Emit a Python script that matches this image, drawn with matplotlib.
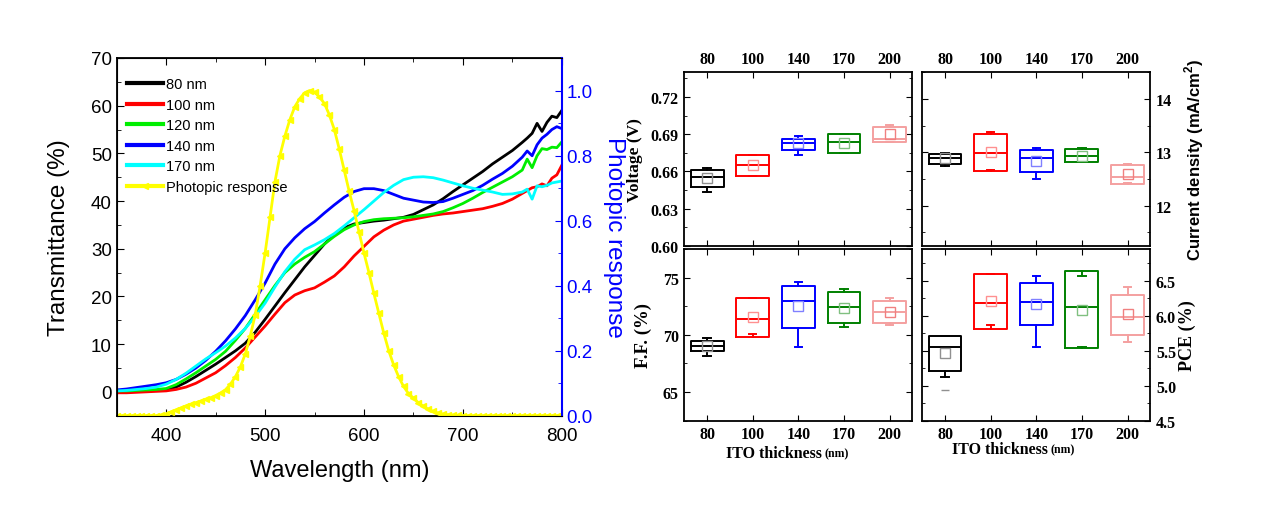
import numpy as np
import matplotlib
matplotlib.use("Agg")
import matplotlib.pyplot as plt
from matplotlib.ticker import MultipleLocator, FormatStrFormatter

# ---- transmittance spectra (left panel) ----
wavelength = [350, 360, 370, 380, 390, 400, 410, 420, 430, 440, 450, 460, 470, 480, 490,
              500, 510, 520, 530, 540, 550, 560, 570, 580, 590, 600, 610, 620, 630, 640,
              650, 660, 670, 680, 690, 700, 710, 720, 730, 740, 750, 760, 765, 770, 775,
              780, 785, 790, 795, 800]
t_80 = [0.0, 0.0, 0.1, 0.2, 0.3, 0.5, 1.0, 2.0, 3.2, 4.5, 5.8, 7.2, 8.6, 10.2, 12.5,
        15.2, 18.0, 20.8, 23.5, 26.2, 28.6, 31.0, 33.0, 34.4, 35.2, 35.5, 35.8, 36.0, 36.3, 36.6,
        37.2, 38.2, 39.2, 40.5, 42.0, 43.4, 44.8, 46.2, 47.8, 49.2, 50.6, 52.3, 53.2, 54.2, 56.3,
        54.6, 56.5, 57.8, 57.5, 59.0]
t_100 = [-0.2, -0.2, -0.1, 0.0, 0.1, 0.2, 0.5, 1.0, 1.8, 2.9, 4.0, 5.5, 7.2, 9.2, 11.5,
         13.8, 16.3, 18.7, 20.3, 21.2, 21.8, 23.0, 24.3, 26.2, 28.5, 30.5, 32.5, 33.9, 35.0, 35.8,
         36.2, 36.6, 37.0, 37.3, 37.5, 37.8, 38.1, 38.4, 38.9, 39.5, 40.4, 41.6, 42.2, 42.8, 43.0,
         43.6, 43.2, 44.8, 45.5, 47.5]
t_120 = [0.2, 0.2, 0.3, 0.4, 0.5, 0.7, 1.5, 2.7, 4.0, 5.4, 6.8, 8.5, 10.8, 13.3, 16.3,
         19.3, 22.3, 25.0, 26.8, 28.2, 29.4, 31.0, 32.6, 34.0, 35.0, 35.7, 36.1, 36.3, 36.4, 36.5,
         36.7, 37.0, 37.3, 37.8, 38.6, 39.5, 40.6, 41.8, 42.9, 44.0, 45.1, 46.5, 48.8, 47.0, 49.5,
         51.0, 50.8, 51.3, 51.2, 52.4]
t_140 = [0.4, 0.6, 0.9, 1.2, 1.5, 1.9, 2.6, 3.7, 5.0, 6.6, 8.5, 10.7, 13.2, 16.0, 19.3,
         22.8, 26.8, 30.0, 32.3, 34.2, 35.7, 37.5, 39.2, 40.8, 42.0, 42.6, 42.6, 42.2, 41.4, 40.6,
         40.2, 39.8, 39.7, 39.9, 40.6, 41.4, 42.2, 43.3, 44.6, 45.8, 47.3, 49.2, 50.5, 49.5, 51.8,
         53.2, 54.0, 55.0, 55.6, 55.2]
t_170 = [0.2, 0.3, 0.5, 0.7, 1.0, 1.6, 2.6, 3.9, 5.4, 6.9, 8.2, 9.6, 11.3, 13.3, 15.8,
         18.6, 22.0, 25.2, 27.8, 29.8, 30.8, 31.9, 33.2, 34.8, 36.5, 38.2, 40.0, 41.8, 43.3, 44.5,
         45.0, 45.1, 44.9, 44.4, 43.8, 43.2, 42.7, 42.3, 41.9, 41.4, 41.5, 41.9, 42.5, 40.4, 43.2,
         43.0, 43.3, 43.8, 44.0, 44.2]
spectra = [("80 nm", t_80, "black"), ("100 nm", t_100, "red"), ("120 nm", t_120, "#00EE00"),
           ("140 nm", t_140, "blue"), ("170 nm", t_170, "cyan")]

photopic_wl = list(range(350, 805, 5))
photopic = [0, 0, 0, 0, 0, 0, 0, 0, 0, 0.002,
            0.005, 0.012, 0.018, 0.024, 0.03, 0.035, 0.04, 0.045, 0.05, 0.055,
            0.062, 0.07, 0.08, 0.097, 0.12, 0.15, 0.19, 0.245, 0.31, 0.40,
            0.50, 0.61, 0.72, 0.80, 0.86, 0.91, 0.95, 0.975, 0.993, 1.0,
            0.995, 0.98, 0.96, 0.925, 0.88, 0.82, 0.755, 0.69, 0.63, 0.565,
            0.50, 0.44, 0.376, 0.315, 0.254, 0.20, 0.156, 0.12, 0.09, 0.068,
            0.054, 0.04, 0.029, 0.02, 0.013, 0.008, 0.005, 0.003, 0.002, 0.001,
            0, 0, 0, 0, 0, 0, 0, 0, 0, 0, 0, 0, 0, 0, 0, 0, 0, 0, 0, 0, 0]

# ---- device statistics (right panels) ----
thickness = ["80", "100", "140", "170", "200"]
box_colors = ["black", "red", "blue", "green", "#F4A0A0"]
mean_colors = ["#909090", "#FF9090", "#8080FF", "#80C080", "#F08080"]

voc_lo = [0.6432, 0.6562, 0.6730, 0.6752, 0.6839]
voc_q1 = [0.6475, 0.6562, 0.6774, 0.6752, 0.6839]
voc_med = [0.6551, 0.6654, 0.6828, 0.6836, 0.6861]
voc_q3 = [0.6611, 0.6736, 0.6863, 0.6904, 0.6958]
voc_hi = [0.6627, 0.6736, 0.6882, 0.6904, 0.6975]
voc_mean = [0.6543, 0.6652, 0.6828, 0.6831, 0.6901]

jsc_lo = [12.75, 12.67, 12.50, 12.82, 12.43]
jsc_q1 = [12.78, 12.65, 12.64, 12.81, 12.40]
jsc_med = [12.89, 12.98, 12.89, 12.94, 12.54]
jsc_q3 = [12.96, 13.35, 13.04, 13.06, 12.76]
jsc_hi = [12.98, 13.38, 13.09, 13.08, 12.78]
jsc_mean = [12.89, 13.01, 12.84, 12.94, 12.59]

ff_lo = [68.17, 70.04, 68.96, 70.66, 70.90]
ff_q1 = [68.55, 69.81, 70.63, 71.04, 71.04]
ff_med = [68.99, 71.42, 73.00, 72.45, 71.98]
ff_q3 = [69.43, 73.18, 74.27, 73.74, 72.95]
ff_hi = [69.69, 73.21, 74.65, 74.00, 73.18]
ff_mean = [68.99, 71.54, 72.48, 72.39, 71.98]

pce_lo = [5.13, 5.86, 5.55, 5.55, 5.63]
pce_q1 = [5.21, 5.81, 5.87, 5.54, 5.73]
pce_med = [5.55, 6.18, 6.20, 6.12, 5.98]
pce_q3 = [5.71, 6.59, 6.47, 6.63, 6.30]
pce_hi = [5.71, 6.59, 6.57, 6.56, 6.41]
pce_mean = [5.47, 6.21, 6.17, 6.08, 6.02]
pce_fliers = [[4.94], [], [], [], []]

serif = "Liberation Serif"
sans = "Liberation Sans"

fig = plt.figure(figsize=(12.8, 5.06), dpi=100)

# ---------------- left panel ----------------
ax = fig.add_axes([0.0912, 0.1765, 0.3477, 0.7069])
for name, vals, col in spectra:
    ax.plot(wavelength, vals, color=col, lw=2.0, label=name)
ax.set_xlim(350, 800)
ax.set_ylim(-5, 70)
ax.xaxis.set_major_locator(MultipleLocator(100))
ax.xaxis.set_minor_locator(MultipleLocator(50))
ax.yaxis.set_major_locator(MultipleLocator(10))
ax.yaxis.set_minor_locator(MultipleLocator(5))
ax.tick_params(which="both", direction="in", top=True, right=False, labelsize=13.5)
ax.tick_params(which="major", length=5)
ax.tick_params(which="minor", length=3)
ax.tick_params(axis="x", pad=8)
for lab in ax.get_xticklabels() + ax.get_yticklabels():
    lab.set_family(sans)
ax.set_xlabel("Wavelength (nm)", fontsize=17, family=sans)
ax.set_ylabel("Transmittance (%)", fontsize=17.5, family=sans)
ax.xaxis.set_label_coords(0.5, -0.12)
ax.yaxis.set_label_coords(-0.105, 0.5)
for s in ax.spines.values():
    s.set_linewidth(1.3)

ax2 = ax.twinx()
ax2.plot(photopic_wl, photopic, color="yellow", lw=2.0, marker="<", markersize=4,
         label="Photopic response")
ax2.set_ylim(0, 1.1)
ax2.yaxis.set_major_locator(MultipleLocator(0.2))
ax2.yaxis.set_minor_locator(MultipleLocator(0.1))
ax2.yaxis.set_major_formatter(FormatStrFormatter("%.1f"))
ax2.tick_params(which="both", direction="in", colors="blue", labelsize=13.5)
ax2.tick_params(which="major", length=5)
ax2.tick_params(which="minor", length=3)
for lab in ax2.get_yticklabels():
    lab.set_family(sans)
ax2.spines["right"].set_color("blue")
ax2.spines["right"].set_linewidth(1.5)
ax2.set_ylabel("Photopic response", fontsize=17.5, family=sans, color="blue", rotation=270)
ax2.yaxis.set_label_coords(1.143, 0.5)

h1, l1 = ax.get_legend_handles_labels()
h2, l2 = ax2.get_legend_handles_labels()
leg = ax2.legend(h1 + h2, l1 + l2, loc="upper left", bbox_to_anchor=(0.0, 0.975),
                 frameon=False, handlelength=2.5, handletextpad=0.2,
                 labelspacing=0.45, borderaxespad=0.3, prop={"family": sans, "size": 10.5})
for line in leg.get_lines():
    line.set_linewidth(3)


# ---------------- right panels ----------------
def box_panel(rect, lo, q1, med, q3, hi, mean, ylim, major, minor, fmt,
              top_labels, right_labels, fliers=None):
    a = fig.add_axes(rect)
    for i in range(len(thickness)):
        st = dict(whislo=lo[i], q1=q1[i], med=med[i], q3=q3[i], whishi=hi[i],
                  mean=mean[i], fliers=fliers[i] if fliers else [])
        c = box_colors[i]
        a.bxp([st], positions=[i + 1], widths=0.72, showmeans=True, manage_ticks=False,
              capwidths=0.16,
              boxprops=dict(color=c, lw=1.4), whiskerprops=dict(color=c, lw=1.4),
              capprops=dict(color=c, lw=1.4), medianprops=dict(color=c, lw=1.4),
              meanprops=dict(marker="s", markerfacecolor="none", markeredgecolor=mean_colors[i],
                             markersize=6.5, markeredgewidth=1.0),
              flierprops=dict(marker="_", markeredgecolor="#909090", markersize=6))
    a.set_xlim(0.5, 5.5)
    a.set_ylim(*ylim)
    a.set_xticks(range(1, 6))
    a.set_xticklabels(thickness)
    a.yaxis.set_major_locator(MultipleLocator(major))
    a.yaxis.set_minor_locator(MultipleLocator(minor))
    a.yaxis.set_major_formatter(FormatStrFormatter(fmt))
    a.tick_params(which="both", direction="in", top=True, right=True, left=True, bottom=True,
                  labeltop=top_labels, labelbottom=not top_labels,
                  labelright=right_labels, labelleft=not right_labels, labelsize=11.5, pad=4)
    a.tick_params(which="major", length=4)
    a.tick_params(which="minor", length=2.5)
    for lab in a.get_xticklabels() + a.get_yticklabels():
        lab.set_family(serif)
        lab.set_fontweight("bold")
    for s in a.spines.values():
        s.set_linewidth(1.3)
    return a


top_y, bot_y, h = 0.5125, 0.1666, 0.3427
lx, rx, w = 0.5346, 0.7205, 0.1782

av = box_panel([lx, top_y, w, h], voc_lo, voc_q1, voc_med, voc_q3, voc_hi, voc_mean,
               (0.60, 0.74), 0.03, 0.015, "%.2f", True, False)
av.set_ylabel("Voltage (V)", family=serif, fontweight="bold", fontsize=12.5)
av.yaxis.set_label_coords(-0.183, 0.5)

aj = box_panel([rx, top_y, w, h], jsc_lo, jsc_q1, jsc_med, jsc_q3, jsc_hi, jsc_mean,
               (11.25, 14.5), 1, 0.5, "%d", True, True)
aj.yaxis.set_label_position("right")
aj.set_ylabel("Current density (mA/cm$^\\mathregular{2}$)", family=sans, fontweight="bold",
              fontsize=12)
aj.yaxis.set_label_coords(1.14, 0.5)

af = box_panel([lx, bot_y, w, 0.3393], ff_lo, ff_q1, ff_med, ff_q3, ff_hi, ff_mean,
               (62.5, 77.5), 5, 2.5, "%d", False, False)
af.set_ylabel("F.F. (%)", family=serif, fontweight="bold", fontsize=13.5)
af.yaxis.set_label_coords(-0.143, 0.5)

ap = box_panel([rx, bot_y, w, 0.3393], pce_lo, pce_q1, pce_med, pce_q3, pce_hi, pce_mean,
               (4.5, 6.95), 0.5, 0.25, "%.1f", False, True, fliers=pce_fliers)
ap.yaxis.set_label_position("right")
ap.set_ylabel("PCE (%)", family=serif, fontweight="bold", fontsize=13)
ap.yaxis.set_label_coords(1.125, 0.5)

for a, xr, yy in [(af, 0.603, -0.19), (ap, 0.552, -0.165)]:
    a.text(xr, yy, "ITO thickness", transform=a.transAxes, ha="right", va="center",
           family=serif, fontweight="bold", fontsize=11.5)
    a.text(xr + 0.01, yy, "(nm)", transform=a.transAxes, ha="left", va="center",
           family=serif, fontweight="bold", fontsize=8.5)

fig.savefig("out.png", dpi=100)
